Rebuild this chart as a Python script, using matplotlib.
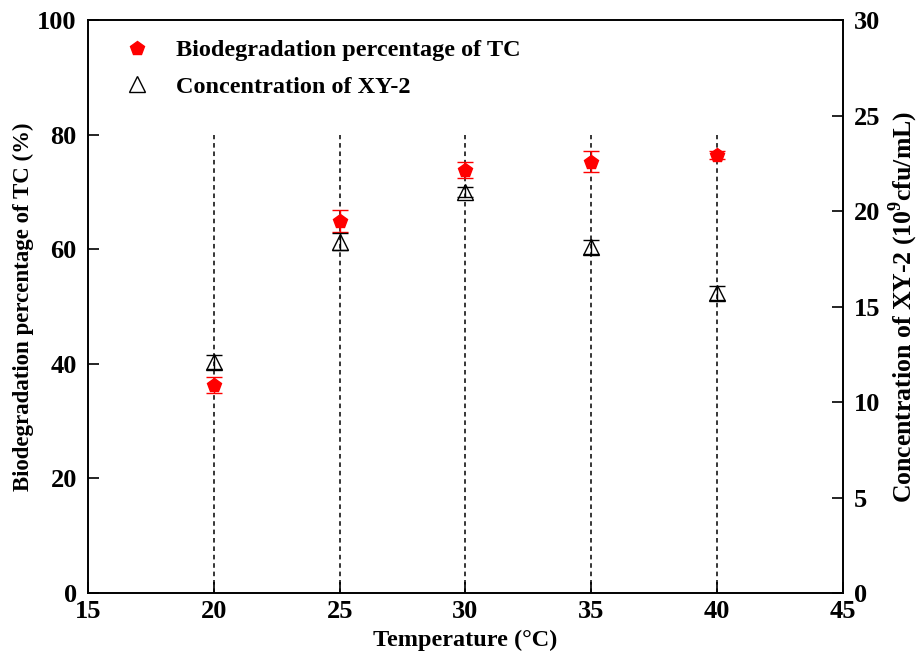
import numpy as np
import matplotlib
matplotlib.use("Agg")
import matplotlib.pyplot as plt
from matplotlib.lines import Line2D

plt.rcParams['font.family'] = ['Liberation Serif', 'DejaVu Serif']
plt.rcParams['font.weight'] = 'bold'
plt.rcParams['mathtext.fontset'] = 'custom'
plt.rcParams['mathtext.rm'] = 'Liberation Serif:bold'
plt.rcParams['mathtext.bf'] = 'Liberation Serif:bold'

# data
temperature = [20, 25, 30, 35, 40]
degradation = [36.3, 64.9, 73.8, 75.3, 76.5]
degradation_err = [1.4, 1.9, 1.4, 1.8, 0.7]
concentration = [12.1, 18.4, 21.0, 18.1, 15.7]
concentration_err = [0.37, 0.45, 0.27, 0.37, 0.38]

fig = plt.figure(figsize=(9.24, 6.56), dpi=100)
ax1 = fig.add_axes([0.0952, 0.096, 0.8171, 0.8735])
ax2 = ax1.twinx()

# vertical guide lines
ax1.vlines(temperature, 0, 80, colors="black", linestyles=(0, (3, 2.5)), linewidth=1.1, zorder=1)

ax1.errorbar(temperature, degradation, yerr=degradation_err, fmt="p", color="red",
             markersize=10, capsize=6, elinewidth=1, capthick=1, zorder=3)
ax2.errorbar(temperature, concentration, yerr=concentration_err, fmt="^", color="black",
             markerfacecolor="none", markersize=12, markeredgewidth=1, capsize=6,
             elinewidth=1, capthick=1, zorder=3)

ax1.set_xlim(15, 45)
ax1.set_ylim(0, 100)
ax2.set_ylim(0, 30)
ax1.set_xticks([15, 20, 25, 30, 35, 40, 45])
ax1.set_yticks([0, 20, 40, 60, 80, 100])
ax2.set_yticks([0, 5, 10, 15, 20, 25, 30])

for ax in (ax1, ax2):
    ax.tick_params(direction="in", length=8, width=1.2, labelsize=19)
    for s in ax.spines.values():
        s.set_linewidth(1.2)
ax1.tick_params(axis="x", pad=5)
ax1.tick_params(axis="y", pad=8)
ax2.tick_params(axis="y", pad=8)

ax1.set_xlabel("Temperature (°C)", fontsize=17.5, fontweight="bold", labelpad=5)
ax1.set_ylabel("Biodegradation percentage of TC (%)", fontsize=16.5, fontweight="bold")
ax2.set_ylabel("Concentration of XY-2 (10$^{9}$cfu/mL)", fontsize=18.5, fontweight="bold", labelpad=4)

handles = [
    Line2D([], [], marker="p", color="red", linestyle="none", markersize=10),
    Line2D([], [], marker="^", color="black", markerfacecolor="none", linestyle="none",
           markersize=12, markeredgewidth=1),
]
labels = ["Biodegradation percentage of TC", "Concentration of XY-2"]
ax1.legend(handles, labels, loc="upper left", bbox_to_anchor=(0.02, 1.005),
           frameon=False, handlelength=1.0, handletextpad=1.1, labelspacing=0.6,
           prop={"weight": "bold", "size": 17.5})

# place left label to match reference position
ax1.yaxis.set_label_coords(-0.072, 0.5)

fig.savefig("out.png", dpi=100)
